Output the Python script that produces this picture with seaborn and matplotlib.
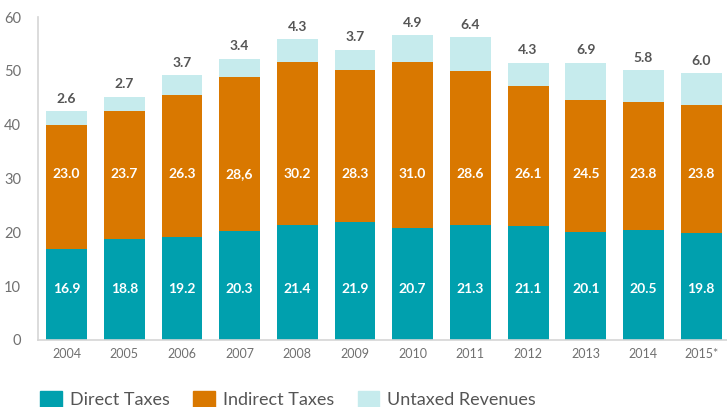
import matplotlib
matplotlib.use("Agg")
import matplotlib.pyplot as plt
import seaborn as sns
import pandas as pd
import numpy as np
from matplotlib.patches import Patch

years = ["2004", "2005", "2006", "2007", "2008", "2009", "2010", "2011", "2012", "2013", "2014", "2015*"]
direct = [16.9, 18.8, 19.2, 20.3, 21.4, 21.9, 20.7, 21.3, 21.1, 20.1, 20.5, 19.8]
indirect = [23.0, 23.7, 26.3, 28.6, 30.2, 28.3, 31.0, 28.6, 26.1, 24.5, 23.8, 23.8]
indirect_labels = ["23.0", "23.7", "26.3", "28,6", "30.2", "28.3", "31.0", "28.6", "26.1", "24.5", "23.8", "23.8"]
untaxed = [2.6, 2.7, 3.7, 3.4, 4.3, 3.7, 4.9, 6.4, 4.3, 6.9, 5.8, 6.0]
y_ticks = [0, 10, 20, 30, 40, 50, 60]

c_direct = "#00A0AE"
c_indirect = "#D97800"
c_untaxed = "#C6EBED"

sns.set_theme(style="white")
plt.rcParams["font.family"] = ["Lato", "DejaVu Sans"]

df = pd.DataFrame({"year": years, "direct": direct, "indirect": indirect, "untaxed": untaxed})
df["di"] = df["direct"] + df["indirect"]
df["total"] = df["di"] + df["untaxed"]

fig = plt.figure(figsize=(7.27, 4.07), dpi=100)
ax = fig.add_axes([0.052, 0.165, 0.952, 0.793])

w = 0.71
sns.barplot(data=df, x="year", y="total", color=c_untaxed, width=w, ax=ax, saturation=1, linewidth=0)
sns.barplot(data=df, x="year", y="di", color=c_indirect, width=w, ax=ax, saturation=1, linewidth=0)
sns.barplot(data=df, x="year", y="direct", color=c_direct, width=w, ax=ax, saturation=1, linewidth=0)

for i in range(len(years)):
    ax.text(i, 9.5, f"{direct[i]:.1f}", ha="center", va="center", color="white",
            fontsize=10, fontweight="bold")
    ax.text(i, 30.9, indirect_labels[i], ha="center", va="center", color="white",
            fontsize=10, fontweight="bold")
    ax.text(i, df["total"][i] + 1.2, f"{untaxed[i]:.1f}", ha="center", va="bottom",
            color="#555555", fontsize=10, fontweight="bold")

ax.set_xlim(-0.5, 11.5)
ax.set_ylim(0, 60)
ax.set_yticks(y_ticks)
ax.set_xlabel("")
ax.set_ylabel("")
ax.set_xticks(np.arange(0.5, 11.5, 1), minor=True)

for s in ["top", "right"]:
    ax.spines[s].set_visible(False)
for s in ["left", "bottom"]:
    ax.spines[s].set_color("#D5D5D5")
    ax.spines[s].set_linewidth(1.2)

ax.tick_params(axis="x", which="major", length=0, pad=6, labelsize=9, labelcolor="#707070")
ax.tick_params(axis="x", which="minor", length=6, direction="in", color="#D5D5D5", width=1)
ax.tick_params(axis="y", which="major", length=7, direction="in", color="#D5D5D5", width=1,
               pad=12, labelsize=10.5, labelcolor="#707070")
ax.set_axisbelow(True)

handles = [Patch(color=c_direct, label="Direct Taxes"),
           Patch(color=c_indirect, label="Indirect Taxes"),
           Patch(color=c_untaxed, label="Untaxed Revenues")]
fig.legend(handles=handles, loc="upper left", bbox_to_anchor=(0.055, 0.04), ncol=3,
           frameon=False, fontsize=13, handlelength=1.2, handleheight=1.0,
           columnspacing=1.3, handletextpad=0.45, labelcolor="#555555",
           borderpad=0, borderaxespad=0)

fig.savefig("out.png", dpi=100)
